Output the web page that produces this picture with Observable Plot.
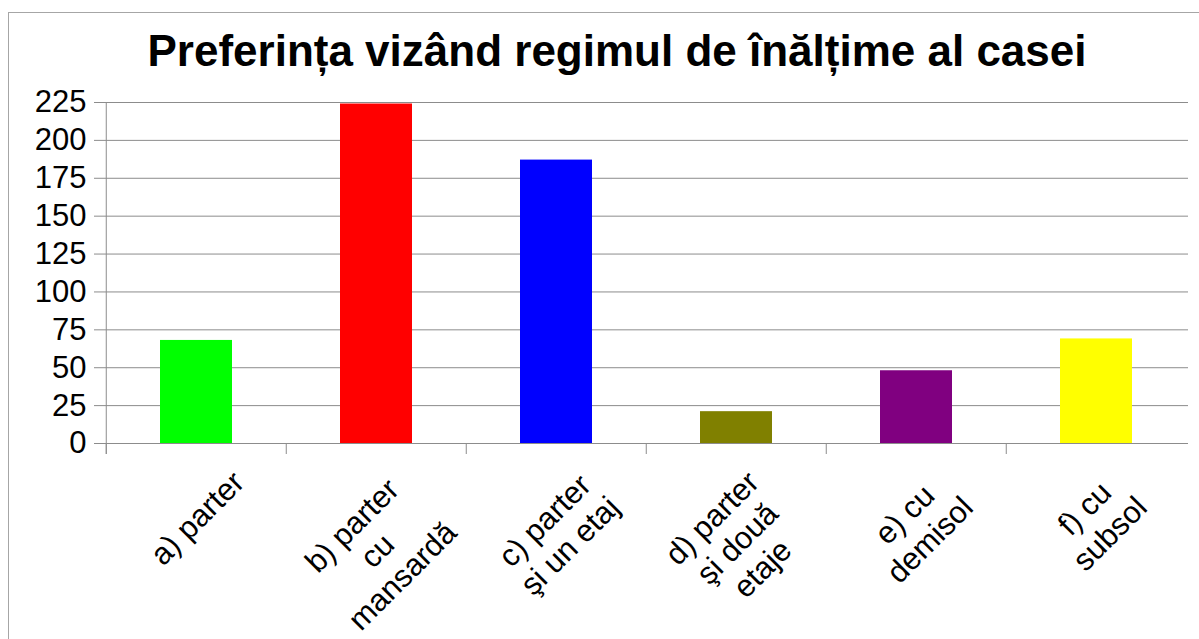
<!DOCTYPE html>
<html><head><meta charset="utf-8">
<script src="https://cdn.jsdelivr.net/npm/d3@7"></script>
<script src="https://cdn.jsdelivr.net/npm/@observablehq/plot@0.6"></script>
<style>
html,body{margin:0;padding:0;background:#fff;overflow:hidden;width:1199px;height:639px;}
#frame{position:absolute;left:8px;top:12px;width:1300px;height:700px;border-left:1px solid #a6a6a6;border-top:1px solid #a6a6a6;}
#title{position:absolute;left:117px;width:1000px;top:29px;font:bold 44px/44px "Liberation Sans",Arial,sans-serif;text-align:center;color:#000;white-space:nowrap;}
#chart{position:absolute;left:0;top:0;}
</style></head><body>
<div id="frame"></div>
<div id="title">Preferința vizând regimul de înălțime al casei</div>
<div id="chart"></div>
<script>
const categories = ["a) parter", "b) parter\ncu\nmansardă", "c) parter\nşi un etaj", "d) parter\nşi două\netaje", "e) cu\ndemisol", "f) cu\nsubsol"];
const values = [68, 224, 187, 21, 48, 69];
const colors = ["#00ff00", "#ff0000", "#0000ff", "#808000", "#800080", "#ffff00"];
const yTicks = [0, 25, 50, 75, 100, 125, 150, 175, 200, 225];

const W = 1199, H = 639, mL = 105, mR = 11, mT = 102, mB = 196;
const gridColor = "#8c8c8c";
const fontSize = 31, lineHeight = 1.15;
const ctx = document.createElement("canvas").getContext("2d");
ctx.font = `${fontSize}px "Liberation Sans"`;
const step = (W - mL - mR) / categories.length;
const labelTop = 20;
function labelDy(t) {
  const lines = t.split("\n");
  const w = Math.max(...lines.map(l => ctx.measureText(l).width));
  const h = lines.length * lineHeight * fontSize;
  return labelTop + (w + h) / Math.SQRT2 / 2;
}
const data = categories.map((c, i) => ({category: c, value: values[i], color: colors[i]}));

const plot = Plot.plot({
  width: W, height: H,
  marginLeft: mL, marginRight: mR, marginTop: mT, marginBottom: mB,
  x: {domain: categories, paddingInner: 0.6, paddingOuter: 0.3, axis: null},
  y: {domain: [0, 225], axis: null},
  color: {type: "identity"},
  style: {fontFamily: '"Liberation Sans", Arial, sans-serif', background: "transparent", overflow: "visible"},
  marks: [
    Plot.ruleY(yTicks.filter(d => d > 0), {stroke: gridColor}),
    Plot.barY(data, {x: "category", y: "value", fill: "color"}),
    Plot.ruleY([0], {stroke: gridColor}),
    Plot.ruleX(categories, {x: d => d, y1: 0, y2: 0, insetBottom: -11, dx: -step / 2, stroke: gridColor}),
    Plot.ruleX([categories[0]], {x: d => d, y1: 225, y2: 0, insetBottom: -11, dx: -step / 2, stroke: gridColor}),
    Plot.axisY(yTicks, {tickSize: 11, tickPadding: 8, fontSize, color: "black", stroke: gridColor, label: null}),
    ...categories.map(c => Plot.text([c], {
      x: d => d, y: 0, text: d => d, rotate: -45,
      textAnchor: "middle", lineAnchor: "middle", lineHeight, fontSize,
      dy: labelDy(c), fill: "black"
    }))
  ]
});
document.getElementById("chart").appendChild(plot);
</script>
</body></html>
